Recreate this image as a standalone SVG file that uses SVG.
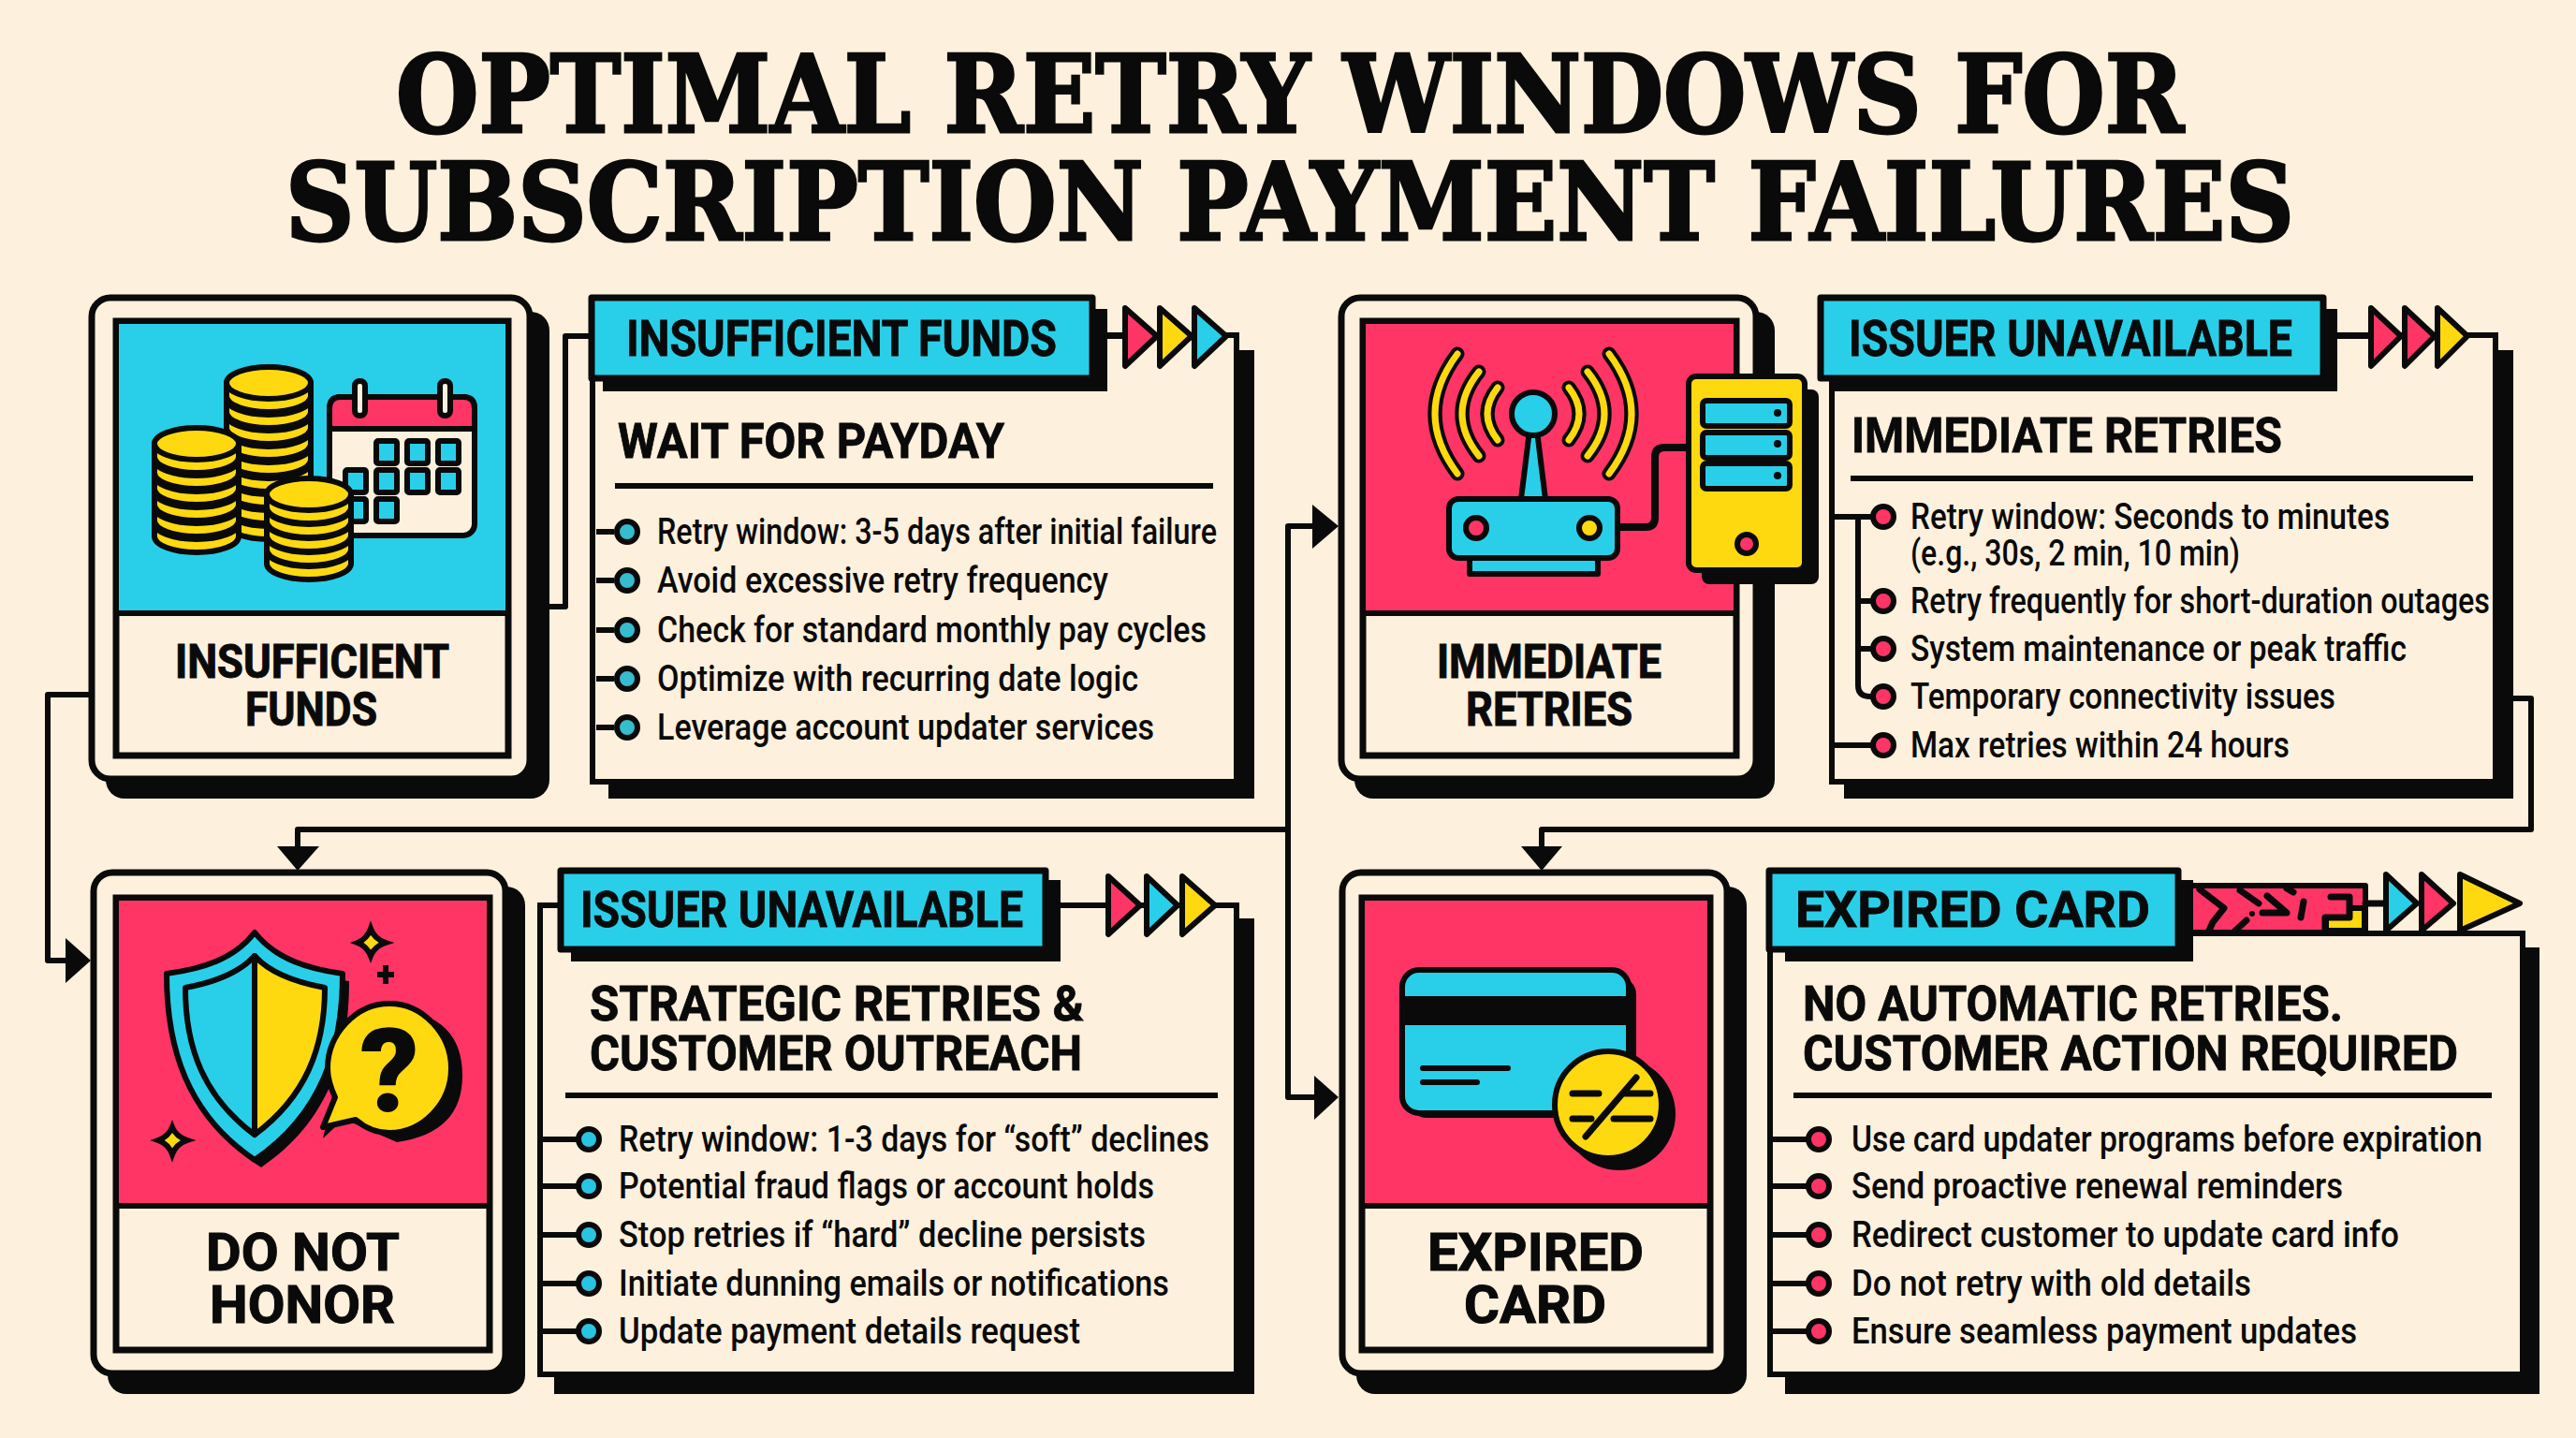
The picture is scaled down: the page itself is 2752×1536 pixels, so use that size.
<svg xmlns="http://www.w3.org/2000/svg" width="2752" height="1536" viewBox="0 0 2752 1536">
<style>
text{fill:#0a0a0a;font-family:"Roboto","Liberation Sans",sans-serif;font-weight:700}
.title{font-family:"DejaVu Serif","Liberation Serif",serif;font-size:114px;font-weight:700;stroke:#0a0a0a;stroke-width:3}
.lab{font-size:50px;stroke:#0a0a0a;stroke-width:1}
.big{font-size:55px;stroke:#0a0a0a;stroke-width:1}
.tab{font-size:53px;stroke:#0a0a0a;stroke-width:.8}
.hd{font-size:52.5px;stroke:#0a0a0a;stroke-width:.8}
.b{font-size:38px;font-weight:500}
.k{fill:#0a0a0a}
.ln{fill:none;stroke:#0a0a0a;stroke-width:6;stroke-linecap:round;stroke-linejoin:round}
.card{fill:#fdf0dc;stroke:#0a0a0a;stroke-width:7}
.inner{fill:#fdf0dc;stroke:#0a0a0a;stroke-width:7}
.cy{fill:#29cfe8}.pk{fill:#ff3566}.ye{fill:#ffd90f}.cr{fill:#fdf0dc}
.o{stroke:#0a0a0a;stroke-width:6;stroke-linejoin:round}
.panel{fill:#fdf0dc;stroke:#0a0a0a;stroke-width:6}
.rule{stroke:#0a0a0a;stroke-width:6}
.dot1{fill:#35bccd;stroke:#0a0a0a;stroke-width:6}
.dot2{fill:#ff3566;stroke:#0a0a0a;stroke-width:6}
.dot3{fill:#29c4e0;stroke:#0a0a0a;stroke-width:6}
.wave{fill:none;stroke-linecap:round}
</style>
<defs>
<g id="coin"><path class="ye o" d="M-45 0V14A45 17 0 0 0 45 14V0Z"/><ellipse class="ye o" rx="45" ry="17"/></g>
<g id="cell"><rect class="cy o" width="22" height="24" rx="2"/></g>
</defs>
<rect width="2752" height="1536" fill="#fdf0dc"/>
<text class="title" x="423" y="141" textLength="1910" lengthAdjust="spacingAndGlyphs">OPTIMAL RETRY WINDOWS FOR</text>
<text class="title" x="305" y="256" textLength="2146" lengthAdjust="spacingAndGlyphs">SUBSCRIPTION PAYMENT FAILURES</text>

<g id="connectors">
<path class="ln" d="M587 648H604V359H632"/>
<path class="ln" d="M95 742H51V1026H72"/>
<path class="k" d="M70 1002L97 1026L70 1050Z"/>
<path class="ln" d="M1402 562H1376V1172H1404"/>
<path class="k" d="M1402 539L1430 562L1402 586Z"/>
<path class="k" d="M1404 1149L1430 1172L1404 1196Z"/>
<path class="ln" d="M1376 886H318V906"/>
<path class="k" d="M296 904H341L318 930Z"/>
<path class="ln" d="M2685 746H2704V886H1647V906"/>
<path class="k" d="M1625 904H1669L1647 930Z"/>
</g>

<g id="card-insufficient">
<rect class="k" x="113" y="333" width="474" height="520" rx="20"/>
<rect class="card" x="98" y="318" width="468" height="514" rx="20"/>
<rect class="inner" x="124" y="343" width="419" height="464"/>
<rect class="cy" x="127" y="346" width="413" height="308"/>
<path class="rule" d="M124 655H543"/>
<rect class="cr o" x="352" y="424" width="155" height="148" rx="12"/>
<path class="pk o" d="M352 458V436Q352 424 364 424H495Q507 424 507 436V458Z"/>
<rect class="cr o" x="379" y="407" width="11" height="37" rx="5"/>
<rect class="cr o" x="470" y="407" width="11" height="37" rx="5"/>
<use href="#cell" x="402" y="471"/><use href="#cell" x="435" y="471"/><use href="#cell" x="468" y="471"/>
<use href="#cell" x="369" y="502"/><use href="#cell" x="402" y="502"/><use href="#cell" x="435" y="502"/><use href="#cell" x="468" y="502"/>
<use href="#cell" x="369" y="533"/><use href="#cell" x="402" y="533"/>
<use href="#coin" x="287" y="545"/><use href="#coin" x="287" y="528"/><use href="#coin" x="287" y="511"/><use href="#coin" x="287" y="494"/><use href="#coin" x="287" y="477"/><use href="#coin" x="287" y="460"/><use href="#coin" x="287" y="443"/><use href="#coin" x="287" y="426"/><use href="#coin" x="287" y="409"/>
<use href="#coin" x="210" y="559"/><use href="#coin" x="210" y="542"/><use href="#coin" x="210" y="525"/><use href="#coin" x="210" y="508"/><use href="#coin" x="210" y="491"/><use href="#coin" x="210" y="474"/>
<use href="#coin" x="330" y="588"/><use href="#coin" x="330" y="573"/><use href="#coin" x="330" y="558"/><use href="#coin" x="330" y="543"/><use href="#coin" x="330" y="528"/>
<text class="lab" x="187" y="724" textLength="293" lengthAdjust="spacingAndGlyphs">INSUFFICIENT</text>
<text class="lab" x="262" y="775" textLength="141" lengthAdjust="spacingAndGlyphs">FUNDS</text>
</g>

<g id="panel-insufficient">
<rect class="k" x="650" y="374" width="690" height="479"/>
<rect class="panel" x="633" y="358" width="688" height="477"/>
<rect class="k" x="644" y="330" width="539" height="88"/>
<rect class="cy o" x="632" y="318" width="535" height="86" style="stroke-width:7"/>
<text class="tab" x="669" y="380" textLength="460" lengthAdjust="spacingAndGlyphs">INSUFFICIENT FUNDS</text>
<path class="ln" d="M1183 359H1202"/>
<path class="pk o" d="M1202 329L1236 359L1202 391Z"/>
<path class="ye o" d="M1239 329L1273 359L1239 391Z"/>
<path class="cy o" d="M1276 329L1310 359L1276 391Z"/>
<text class="hd" x="660" y="489" textLength="413" lengthAdjust="spacingAndGlyphs">WAIT FOR PAYDAY</text>
<path class="rule" d="M657 519H1296"/>
<path class="rule" d="M637 568H656M637 620H656M637 673H656M637 725H656M637 777H656"/>
<circle class="dot1" cx="670" cy="568" r="11"/><circle class="dot1" cx="670" cy="620" r="11"/><circle class="dot1" cx="670" cy="673" r="11"/><circle class="dot1" cx="670" cy="725" r="11"/><circle class="dot1" cx="670" cy="777" r="11"/>
<text class="b" x="702" y="581" textLength="598" lengthAdjust="spacingAndGlyphs">Retry window: 3-5 days after initial failure</text>
<text class="b" x="702" y="633" textLength="482" lengthAdjust="spacingAndGlyphs">Avoid excessive retry frequency</text>
<text class="b" x="702" y="686" textLength="587" lengthAdjust="spacingAndGlyphs">Check for standard monthly pay cycles</text>
<text class="b" x="702" y="738" textLength="514" lengthAdjust="spacingAndGlyphs">Optimize with recurring date logic</text>
<text class="b" x="702" y="790" textLength="531" lengthAdjust="spacingAndGlyphs">Leverage account updater services</text>
</g>

<g id="card-immediate">
<rect class="k" x="1447" y="333" width="449" height="520" rx="20"/>
<rect class="card" x="1433" y="318" width="443" height="514" rx="20"/>
<rect class="inner" x="1456" y="343" width="399" height="464"/>
<rect class="pk" x="1459" y="346" width="393" height="308"/>
<path class="rule" d="M1456 655H1855"/>
<g class="wave">
<path stroke="#0a0a0a" stroke-width="15" d="M1557 378Q1509 442 1557 506M1580 397Q1544 442 1580 487M1600 414Q1578 442 1600 470M1719 378Q1767 442 1719 506M1696 397Q1732 442 1696 487M1676 414Q1698 442 1676 470"/>
<path stroke="#ffd90f" stroke-width="7" d="M1557 378Q1509 442 1557 506M1580 397Q1544 442 1580 487M1600 414Q1578 442 1600 470M1719 378Q1767 442 1719 506M1696 397Q1732 442 1696 487M1676 414Q1698 442 1676 470"/>
</g>
<path class="cy o" d="M1634 460H1642L1651 533H1625Z"/>
<circle class="cy o" cx="1638" cy="442" r="23"/>
<rect class="cy o" x="1570" y="594" width="137" height="19"/>
<rect class="cy o" x="1548" y="533" width="180" height="63" rx="10"/>
<circle class="pk o" cx="1577" cy="564" r="11"/>
<circle class="ye o" cx="1698" cy="564" r="11"/>
<path fill="none" stroke="#0a0a0a" stroke-width="8" stroke-linecap="round" stroke-linejoin="round" d="M1730 563H1758Q1768 563 1768 553V488Q1768 478 1778 478H1806"/>
<rect class="k" x="1818" y="416" width="125" height="208" rx="8"/>
<rect class="ye o" x="1804" y="402" width="124" height="207" rx="8"/>
<rect class="cy o" x="1819" y="428" width="93" height="27" rx="4"/>
<rect class="cy o" x="1819" y="462" width="93" height="27" rx="4"/>
<rect class="cy o" x="1819" y="495" width="93" height="27" rx="4"/>
<circle class="k" cx="1899" cy="441" r="4"/><circle class="k" cx="1899" cy="474" r="4"/><circle class="k" cx="1899" cy="508" r="4"/>
<circle class="pk o" cx="1866" cy="581" r="10"/>
<text class="lab" x="1535" y="724" textLength="240" lengthAdjust="spacingAndGlyphs">IMMEDIATE</text>
<text class="lab" x="1566" y="775" textLength="178" lengthAdjust="spacingAndGlyphs">RETRIES</text>
</g>

<g id="panel-immediate">
<rect class="k" x="1970" y="374" width="715" height="479"/>
<rect class="panel" x="1957" y="358" width="709" height="477"/>
<rect class="k" x="1957" y="330" width="540" height="88"/>
<rect class="cy o" x="1945" y="318" width="537" height="86" style="stroke-width:7"/>
<text class="tab" x="1975" y="380" textLength="474" lengthAdjust="spacingAndGlyphs">ISSUER UNAVAILABLE</text>
<path class="ln" d="M2497 359H2533"/>
<path class="pk o" d="M2533 329L2565 359L2533 391Z"/>
<path class="pk o" d="M2569 329L2601 359L2569 391Z"/>
<path class="ye o" d="M2604 329L2636 359L2604 391Z"/>
<text class="hd" x="1978" y="483" textLength="460" lengthAdjust="spacingAndGlyphs">IMMEDIATE RETRIES</text>
<path class="rule" d="M1977 511H2642"/>
<path class="ln" d="M1957 552H1998M1957 796H1998M1985 552V732Q1985 744 1998 744M1985 642H1998M1985 693H1998"/>
<circle class="dot2" cx="2012" cy="552" r="11"/><circle class="dot2" cx="2012" cy="642" r="11"/><circle class="dot2" cx="2012" cy="693" r="11"/><circle class="dot2" cx="2012" cy="744" r="11"/><circle class="dot2" cx="2012" cy="796" r="11"/>
<text class="b" x="2041" y="565" textLength="512" lengthAdjust="spacingAndGlyphs">Retry window: Seconds to minutes</text>
<text class="b" x="2041" y="604" textLength="352" lengthAdjust="spacingAndGlyphs">(e.g., 30s, 2 min, 10 min)</text>
<text class="b" x="2041" y="655" textLength="619" lengthAdjust="spacingAndGlyphs">Retry frequently for short-duration outages</text>
<text class="b" x="2041" y="706" textLength="530" lengthAdjust="spacingAndGlyphs">System maintenance or peak traffic</text>
<text class="b" x="2041" y="757" textLength="454" lengthAdjust="spacingAndGlyphs">Temporary connectivity issues</text>
<text class="b" x="2041" y="809" textLength="405" lengthAdjust="spacingAndGlyphs">Max retries within 24 hours</text>
</g>

<g id="card-do-not-honor">
<rect class="k" x="115" y="947" width="446" height="542" rx="20"/>
<rect class="card" x="100" y="932" width="440" height="535" rx="20"/>
<rect class="inner" x="124" y="959" width="399" height="483"/>
<rect class="pk" x="127" y="962" width="393" height="325"/>
<path class="rule" d="M124 1288H523"/>
<path class="k" d="M279 1004C257 1033 222 1043 185 1048C185 1128 207 1198 279 1247C351 1198 373 1128 373 1048C337 1043 302 1033 279 1004Z"/>
<path class="cy o" d="M272 996C250 1025 215 1035 178 1040C178 1120 200 1190 272 1239C344 1190 366 1120 366 1040C330 1035 295 1025 272 996Z"/>
<path class="cy o" d="M272 1021C255 1040 225 1050 198 1055C198 1120 218 1172 272 1212Z"/>
<path class="ye o" d="M272 1021C289 1040 320 1050 347 1055C347 1120 326 1172 272 1212Z"/>
<path class="k" d="M345 1216L362 1200L355 1190L424 1220Q494 1210 494 1149Q494 1085 424 1078Q360 1090 360 1149Z"/>
<path class="ye o" d="M345 1204L358 1172Q350 1155 350 1141C350 1105 380 1072 416 1072C452 1072 482 1105 482 1141C482 1178 452 1210 416 1210Q396 1210 380 1196Z"/>
<text x="416" y="1187" font-size="124" text-anchor="middle" style="font-weight:900">?</text>
<path class="ye" stroke="#0a0a0a" stroke-width="6" d="M396 992Q400 1003 412 1007Q400 1011 396 1021Q392 1011 382 1007Q392 1003 396 992Z"/>
<path class="k" d="M409 1031H415V1038H421V1044H415V1051H409V1044H403V1038H409Z"/>
<path class="ye" stroke="#0a0a0a" stroke-width="6" d="M184 1204Q188 1214 200 1218Q188 1222 184 1233Q180 1222 169 1218Q180 1214 184 1204Z"/>
<text class="big" x="220" y="1357" textLength="207" lengthAdjust="spacingAndGlyphs">DO NOT</text>
<text class="big" x="224" y="1413" textLength="198" lengthAdjust="spacingAndGlyphs">HONOR</text>
</g>

<g id="panel-do-not-honor">
<rect class="k" x="592" y="981" width="748" height="508"/>
<rect class="panel" x="577" y="967" width="744" height="501"/>
<rect class="k" x="610" y="940" width="523" height="87"/>
<rect class="cy o" x="599" y="930" width="518" height="84" style="stroke-width:7"/>
<text class="tab" x="620" y="990" textLength="473" lengthAdjust="spacingAndGlyphs">ISSUER UNAVAILABLE</text>
<path class="ln" d="M1133 967H1184"/>
<path class="pk o" d="M1184 936L1218 967L1184 998Z"/>
<path class="cy o" d="M1225 936L1258 967L1225 998Z"/>
<path class="ye o" d="M1263 936L1298 967L1263 998Z"/>
<text class="hd" x="630" y="1090" textLength="528" lengthAdjust="spacingAndGlyphs">STRATEGIC RETRIES &amp;</text>
<text class="hd" x="630" y="1143" textLength="526" lengthAdjust="spacingAndGlyphs">CUSTOMER OUTREACH</text>
<path class="rule" d="M604 1170H1301"/>
<path class="rule" d="M577 1217H616M577 1267H616M577 1319H616M577 1371H616M577 1422H616"/>
<circle class="dot3" cx="629" cy="1217" r="11"/><circle class="dot3" cx="629" cy="1267" r="11"/><circle class="dot3" cx="629" cy="1319" r="11"/><circle class="dot3" cx="629" cy="1371" r="11"/><circle class="dot3" cx="629" cy="1422" r="11"/>
<text class="b" x="661" y="1230" textLength="631" lengthAdjust="spacingAndGlyphs">Retry window: 1-3 days for “soft” declines</text>
<text class="b" x="661" y="1280" textLength="572" lengthAdjust="spacingAndGlyphs">Potential fraud flags or account holds</text>
<text class="b" x="661" y="1332" textLength="563" lengthAdjust="spacingAndGlyphs">Stop retries if “hard” decline persists</text>
<text class="b" x="661" y="1384" textLength="588" lengthAdjust="spacingAndGlyphs">Initiate dunning emails or notifications</text>
<text class="b" x="661" y="1435" textLength="493" lengthAdjust="spacingAndGlyphs">Update payment details request</text>
</g>

<g id="card-expired">
<rect class="k" x="1449" y="947" width="417" height="542" rx="20"/>
<rect class="card" x="1434" y="932" width="411" height="535" rx="20"/>
<rect class="inner" x="1455" y="959" width="372" height="483"/>
<rect class="pk" x="1458" y="962" width="366" height="325"/>
<path class="rule" d="M1455 1288H1827"/>
<rect class="k" x="1506" y="1044" width="242" height="150" rx="18"/>
<rect class="cy o" x="1498" y="1036" width="242" height="153" rx="18"/>
<rect class="k" x="1498" y="1064" width="242" height="31"/>
<path class="rule" d="M1520 1141H1611M1520 1156H1578" style="stroke-linecap:round"/>
<circle class="k" cx="1730" cy="1190" r="60"/>
<circle class="ye o" cx="1718" cy="1180" r="57"/>
<path fill="none" stroke="#0a0a0a" stroke-width="7" stroke-linecap="round" d="M1680 1168H1708M1734 1168H1763M1680 1195H1700M1724 1195H1763M1748 1151L1694 1214"/>
<text class="big" x="1525" y="1357" textLength="231" lengthAdjust="spacingAndGlyphs">EXPIRED</text>
<text class="big" x="1564" y="1413" textLength="152" lengthAdjust="spacingAndGlyphs">CARD</text>
</g>

<g id="panel-expired">
<rect class="k" x="1907" y="1012" width="806" height="477"/>
<rect class="panel" x="1891" y="997" width="804" height="471"/>
<rect class="pk o" x="2340" y="946" width="187" height="50"/>
<path class="ye" stroke="#0a0a0a" stroke-width="6" stroke-linejoin="round" d="M2485 994V980H2510V970H2526V994Z"/>
<path class="ln" style="stroke-width:7" d="M2350 950L2376 970L2364 985M2393 951L2413 965M2443 949L2450 953M2417 975H2443L2422 957M2461 963L2458 980M2400 983L2388 994M2364 985L2360 994M2490 958H2510V980H2484V994M2527 965H2547"/>
<circle class="k" cx="2406" cy="976" r="3"/>
<rect class="k" x="1907" y="940" width="436" height="87"/>
<rect class="cy o" x="1890" y="930" width="437" height="84" style="stroke-width:7"/>
<text class="tab" x="1918" y="990" textLength="379" lengthAdjust="spacingAndGlyphs">EXPIRED CARD</text>
<path class="cy o" d="M2549 934L2582 965L2549 994Z"/>
<path class="pk o" d="M2587 934L2621 965L2587 994Z"/>
<path class="ye o" d="M2628 934L2692 965L2628 994Z"/>
<text class="hd" x="1926" y="1090" textLength="577" lengthAdjust="spacingAndGlyphs">NO AUTOMATIC RETRIES.</text>
<text class="hd" x="1926" y="1143" textLength="700" lengthAdjust="spacingAndGlyphs">CUSTOMER ACTION REQUIRED</text>
<path class="rule" d="M1916 1170H2662"/>
<path class="rule" d="M1891 1217H1930M1891 1267H1930M1891 1319H1930M1891 1371H1930M1891 1422H1930"/>
<circle class="dot2" cx="1943" cy="1217" r="11"/><circle class="dot2" cx="1943" cy="1267" r="11"/><circle class="dot2" cx="1943" cy="1319" r="11"/><circle class="dot2" cx="1943" cy="1371" r="11"/><circle class="dot2" cx="1943" cy="1422" r="11"/>
<text class="b" x="1978" y="1230" textLength="674" lengthAdjust="spacingAndGlyphs">Use card updater programs before expiration</text>
<text class="b" x="1978" y="1280" textLength="525" lengthAdjust="spacingAndGlyphs">Send proactive renewal reminders</text>
<text class="b" x="1978" y="1332" textLength="585" lengthAdjust="spacingAndGlyphs">Redirect customer to update card info</text>
<text class="b" x="1978" y="1384" textLength="427" lengthAdjust="spacingAndGlyphs">Do not retry with old details</text>
<text class="b" x="1978" y="1435" textLength="540" lengthAdjust="spacingAndGlyphs">Ensure seamless payment updates</text>
</g>
</svg>
